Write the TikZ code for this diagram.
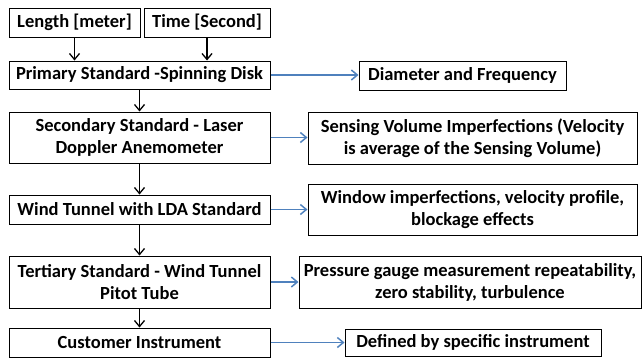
\documentclass[tikz,border=0pt]{standalone}
\usepackage{fontspec}
\setmainfont{Carlito}
\usetikzlibrary{arrows.meta}
\definecolor{arrblue}{RGB}{79,129,189}
\tikzset{
  box/.style={draw=black, line width=1pt, inner sep=0pt, align=center, font=\bfseries\fontsize{18.5}{22}\selectfont},
  down/.style={draw=black, line width=1.3pt, -{Straight Barb[length=6pt,width=10pt,line width=1.3pt]}},
  side/.style={draw=arrblue, line width=1.5pt, -{Straight Barb[length=6pt,width=10pt,line width=1.5pt]}}
}
\begin{document}
\begin{tikzpicture}[x=1pt,y=-1pt]
\useasboundingbox (0,0) rectangle (644,359);
\node[box, minimum width=131pt, minimum height=29pt] (len) at (74.5,22.5) {Length [meter]};
\node[box, minimum width=126pt, minimum height=29pt] (time) at (207,22.5) {Time [Second]};
\node[box, minimum width=261pt, minimum height=28pt] (prim) at (139.5,75) {Primary Standard -Spinning Disk};
\node[box, minimum width=261pt, minimum height=51pt] (sec) at (139.5,137.5) {Secondary Standard - Laser\\Doppler Anemometer};
\node[box, minimum width=261pt, minimum height=29pt] (wind) at (139.5,209.5) {Wind Tunnel with LDA Standard};
\node[box, minimum width=261pt, minimum height=52pt] (tert) at (139.5,282) {Tertiary Standard - Wind Tunnel\\Pitot Tube};
\node[box, minimum width=261pt, minimum height=29pt] (cust) at (139.5,342.5) {Customer Instrument};
\node[box, minimum width=207pt, minimum height=29pt] (diam) at (462.5,75.5) {Diameter and Frequency};
\node[box, minimum width=329pt, minimum height=52pt] (sens) at (472.5,138) {Sensing Volume Imperfections (Velocity\\is average of the Sensing Volume)};
\node[box, minimum width=329pt, minimum height=51pt] (win) at (472.5,209.5) {Window imperfections, velocity profile,\\blockage effects};
\node[box, minimum width=342pt, minimum height=52pt] (pres) at (470,282) {Pressure gauge measurement repeatability,\\zero stability, turbulence};
\node[box, minimum width=256pt, minimum height=27pt] (def) at (473,342.5) {Defined by specific instrument};
\draw[down] (len.south) -- (len.south |- prim.north);
\draw[down] (time.south) -- (time.south |- prim.north);
\draw[down] (prim.south) -- (sec.north);
\draw[down] (sec.south) -- (wind.north);
\draw[down] (wind.south) -- (tert.north);
\draw[down] (tert.south) -- (cust.north);
\draw[side] (prim.east) -- (prim.east -| diam.west);
\draw[side] (sec.east) -- (sec.east -| sens.west);
\draw[side] (wind.east) -- (wind.east -| win.west);
\draw[side] (tert.east) -- (tert.east -| pres.west);
\draw[side] (cust.east) -- (cust.east -| def.west);
\end{tikzpicture}
\end{document}
